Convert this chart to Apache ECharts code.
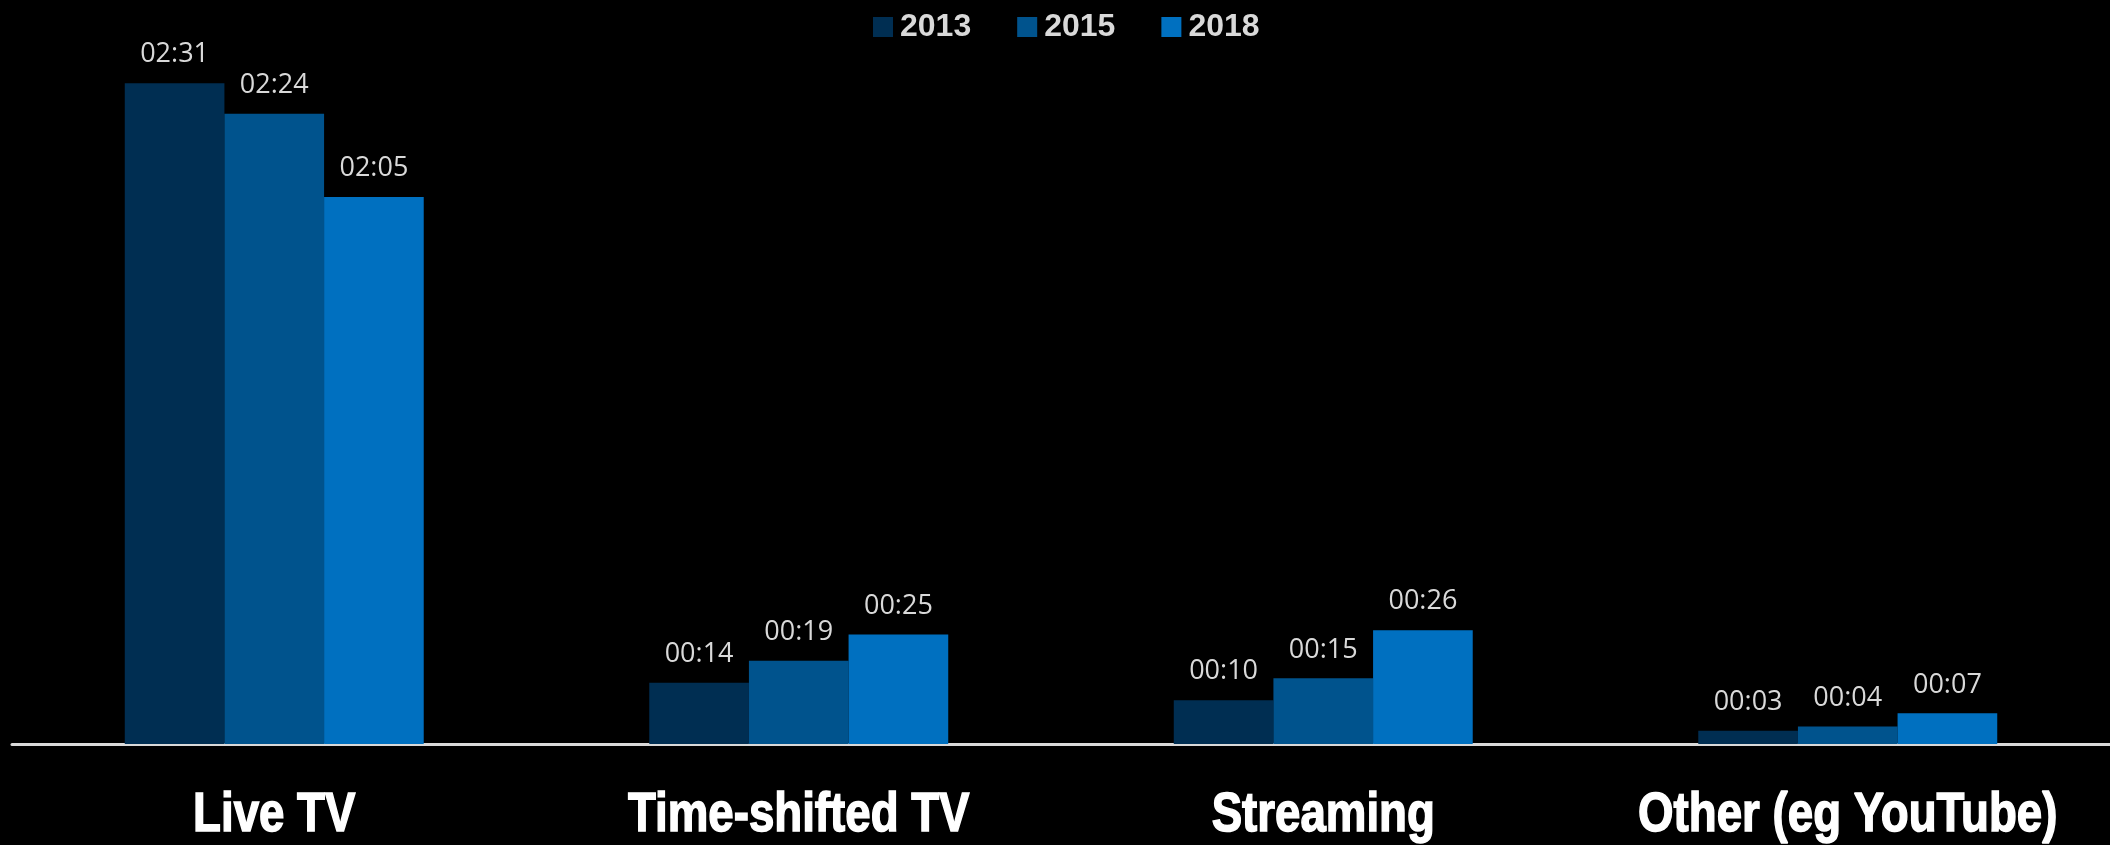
<!DOCTYPE html>
<html>
<head>
<meta charset="utf-8">
<title>Daily viewing time by type</title>
<script src="https://cdn.jsdelivr.net/npm/echarts@6/dist/echarts.min.js"></script>
<style>
  html, body { margin: 0; padding: 0; background: #000; }
  #chart { width: 2110px; height: 845px; }
</style>
</head>
<body>
<div id="chart"></div>
<script>
// Average daily viewing time, in minutes
const categories = ['Live TV', 'Time-shifted TV', 'Streaming', 'Other (eg YouTube)'];
const years = ['2013', '2015', '2018'];
const minutes2013 = [151, 14, 10, 3];
const minutes2015 = [144, 19, 15, 4];
const minutes2018 = [125, 25, 26, 7];
const colors = ['#002E52', '#00538D', '#0070C0'];

const seriesValues = [minutes2013, minutes2015, minutes2018];

// minutes -> "HH:MM"
function toClock(m) {
  const h = Math.floor(m / 60);
  const mm = m % 60;
  return String(h).padStart(2, '0') + ':' + String(mm).padStart(2, '0');
}

const chart = echarts.init(document.getElementById('chart'));

chart.setOption({
  backgroundColor: '#000000',
  animation: false,
  color: colors,
  legend: {
    data: years,
    left: 868,
    top: 6,
    icon: 'rect',
    itemWidth: 20,
    itemHeight: 20,
    itemGap: 46,
    textStyle: {
      color: '#D9D9D9',
      fontFamily: '"Liberation Sans", Arial, sans-serif',
      fontWeight: 'bold',
      fontSize: 32,
      padding: [0, 0, 0, 2]
    }
  },
  grid: { left: 12, right: 0, top: 0, bottom: 101 },
  xAxis: {
    type: 'category',
    data: categories,
    axisLine: { show: true, lineStyle: { color: '#D9D9D9', width: 3 } },
    axisTick: { show: false },
    // category names are drawn below as condensed text
    axisLabel: { show: false }
  },
  yAxis: {
    type: 'value',
    min: 0,
    max: 170,
    show: false,
    splitLine: { show: false }
  },
  series: years.map((y, i) => ({
    name: y,
    type: 'bar',
    data: seriesValues[i],
    barGap: '0%',
    barCategoryGap: '43%',
    itemStyle: { color: colors[i] },
    label: {
      show: true,
      position: 'top',
      distance: 15,
      color: '#D9D9D9',
      fontFamily: '"Open Sans", sans-serif',
      fontSize: 27,
      formatter: p => toClock(p.value)
    }
  }))
});

// Heavy condensed category names, centred under each category band
const axisY = chart.convertToPixel({ yAxisIndex: 0 }, 0);
chart.setOption({
  graphic: categories.map(name => ({
    type: 'text',
    x: chart.convertToPixel({ xAxisIndex: 0 }, name),
    y: axisY + 72,
    scaleX: 0.83,
    style: {
      text: name,
      fill: '#FFFFFF',
      stroke: '#FFFFFF',
      lineWidth: 1.5,
      font: 'bold 55px "Liberation Sans", Arial, sans-serif',
      textAlign: 'center',
      textVerticalAlign: 'middle'
    }
  }))
});
</script>
</body>
</html>
